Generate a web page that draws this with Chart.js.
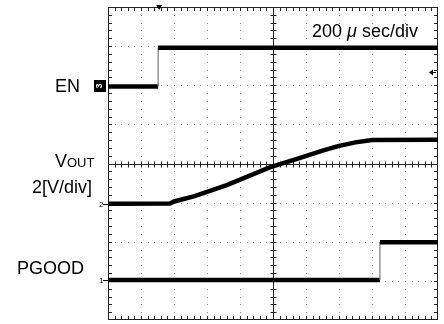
<!DOCTYPE html>
<html>
<head>
<meta charset="utf-8">
<script src="https://cdn.jsdelivr.net/npm/chart.js@4/dist/chart.umd.min.js"></script>
<style>
  body { margin: 0; background: #fff; }
  canvas { display: block; }
</style>
</head>
<body>
<canvas id="scope" width="444" height="324"></canvas>
<script>
// time in divisions (200 usec/div), level in vertical divisions from bottom
const enTime = [0, 1.52, 1.52, 10];
const enLevel = [5.97, 5.97, 6.96, 6.96];

const voutTime = [0, 1.88, 2.0, 2.6, 3.6, 4.9, 5.8, 6.5, 7.0, 7.5, 8.0, 10];
const voutLevel = [2.97, 2.98, 3.03, 3.16, 3.45, 3.90, 4.14, 4.33, 4.45, 4.54, 4.60, 4.61];

const pgoodTime = [0, 8.24, 8.24, 10];
const pgoodLevel = [1.02, 1.02, 1.99, 1.99];

const xDivs = 10;
const yDivs = 8;

const toPoints = (t, v) => t.map((x, i) => ({ x: x, y: v[i] }));

const FONT = '"Liberation Sans", Arial, sans-serif';

// thin grey line for the fast edges, thick black otherwise
const edgeWidth = ctx => (ctx.p0.parsed.x === ctx.p1.parsed.x ? 1.2 : 4.5);
const edgeColor = ctx => (ctx.p0.parsed.x === ctx.p1.parsed.x ? '#777' : '#000');

const graticule = {
    id: 'graticule',
    beforeDatasetsDraw(chart) {
        const { ctx, chartArea, scales } = chart;
        const { left, right, top, bottom } = chartArea;
        const xs = scales.x, ys = scales.y;
        ctx.save();

        // dotted division lines
        ctx.fillStyle = '#888';
        for (let i = 1; i < xDivs; i++) {
            if (i === xDivs / 2) continue;
            const px = Math.round(xs.getPixelForValue(i));
            for (let k = 1; k < yDivs * 5; k++) {
                const py = Math.round(ys.getPixelForValue(k / 5));
                ctx.fillRect(px, py, 1, 1);
            }
        }
        for (let j = 1; j < yDivs; j++) {
            if (j === yDivs / 2) continue;
            const py = Math.round(ys.getPixelForValue(j));
            for (let k = 1; k < xDivs * 5; k++) {
                const px = Math.round(xs.getPixelForValue(k / 5));
                ctx.fillRect(px, py, 1, 1);
            }
        }

        // frame and centre axes
        ctx.strokeStyle = '#222';
        ctx.lineWidth = 1;
        ctx.strokeRect(left + 0.5, top + 0.5, right - left - 1, bottom - top - 1);
        const cx = Math.round(xs.getPixelForValue(xDivs / 2)) + 0.5;
        const cy = Math.round(ys.getPixelForValue(yDivs / 2)) + 0.5;
        ctx.beginPath();
        ctx.moveTo(cx, top); ctx.lineTo(cx, bottom);
        ctx.moveTo(left, cy); ctx.lineTo(right, cy);

        // minor ticks
        for (let k = 1; k < xDivs * 5; k++) {
            const px = Math.round(xs.getPixelForValue(k / 5)) + 0.5;
            ctx.moveTo(px, top); ctx.lineTo(px, top + 4);
            ctx.moveTo(px, bottom); ctx.lineTo(px, bottom - 4);
            ctx.moveTo(px, cy - 3); ctx.lineTo(px, cy + 3);
        }
        for (let k = 1; k < yDivs * 5; k++) {
            const py = Math.round(ys.getPixelForValue(k / 5)) + 0.5;
            ctx.moveTo(left, py); ctx.lineTo(left + 4, py);
            ctx.moveTo(right, py); ctx.lineTo(right - 4, py);
            ctx.moveTo(cx - 3, py); ctx.lineTo(cx + 3, py);
        }
        ctx.stroke();
        ctx.restore();
    },
    afterDatasetsDraw(chart) {
        const { ctx, chartArea, scales } = chart;
        const { top, right } = chartArea;
        const ys = scales.y, xs = scales.x;
        ctx.save();
        ctx.fillStyle = '#000';
        ctx.textBaseline = 'alphabetic';

        // channel names
        ctx.font = '18px ' + FONT;
        ctx.fillText('EN', 55, 92);
        ctx.fillText('V', 55, 167);
        ctx.fillText('2[V/div]', 32, 193);
        ctx.fillText('PGOOD', 17, 274);
        ctx.font = '13px ' + FONT;
        ctx.fillText('OUT', 67, 167);

        // timebase
        const t1 = '200 ';
        const t3 = ' sec/div';
        ctx.font = '18px ' + FONT;
        let tx = 312;
        ctx.fillText(t1, tx, 37);
        tx += ctx.measureText(t1).width;
        ctx.font = 'italic 18px ' + FONT;
        ctx.fillText('\u03bc', tx, 37);
        tx += ctx.measureText('\u03bc').width;
        ctx.font = '18px ' + FONT;
        ctx.fillText(t3, tx, 37);

        // channel 3 ground marker (EN)
        const enY = Math.round(ys.getPixelForValue(enLevel[0]));
        ctx.fillRect(94, enY - 6, 12, 12);
        ctx.fillStyle = '#fff';
        ctx.font = 'bold 9px ' + FONT;
        ctx.save();
        ctx.translate(100, enY);
        ctx.rotate(-Math.PI / 2);
        ctx.textAlign = 'center';
        ctx.textBaseline = 'middle';
        ctx.fillText('3', 0, 0);
        ctx.restore();
        ctx.fillStyle = '#000';

        // channel 2 and 1 markers
        ctx.font = '8px ' + FONT;
        [[2, voutLevel[0]], [1, pgoodLevel[0]]].forEach(([n, v]) => {
            const py = Math.round(ys.getPixelForValue(v));
            ctx.fillText(String(n), 99, py + 3);
            ctx.fillRect(103, py, 5, 1);
        });

        // trigger position marker
        const trigX = xs.getPixelForValue(enTime[1]) + 1;
        ctx.beginPath();
        ctx.moveTo(trigX - 3, top - 2);
        ctx.lineTo(trigX + 3, top - 2);
        ctx.lineTo(trigX, top + 3);
        ctx.closePath();
        ctx.fill();

        // trigger level marker
        const lvlY = Math.round(ys.getPixelForValue(6.35));
        ctx.beginPath();
        ctx.moveTo(right - 9, lvlY + 0.5);
        ctx.lineTo(right - 5, lvlY - 2.5);
        ctx.lineTo(right - 5, lvlY + 3.5);
        ctx.closePath();
        ctx.fill();
        ctx.fillRect(right - 5, lvlY, 3, 1);
        ctx.restore();
    }
};

const traceStyle = {
    borderColor: '#000',
    borderWidth: 4.5,
    pointRadius: 0,
    tension: 0,
    fill: false,
    segment: { borderWidth: edgeWidth, borderColor: edgeColor }
};

new Chart(document.getElementById('scope'), {
    type: 'line',
    data: {
        datasets: [
            Object.assign({ label: 'EN', data: toPoints(enTime, enLevel) }, traceStyle),
            Object.assign({ label: 'VOUT', data: toPoints(voutTime, voutLevel) }, traceStyle),
            Object.assign({ label: 'PGOOD', data: toPoints(pgoodTime, pgoodLevel) }, traceStyle)
        ]
    },
    options: {
        responsive: false,
        animation: false,
        layout: { padding: { left: 108, right: 6, top: 7, bottom: 4 } },
        scales: {
            x: { type: 'linear', min: 0, max: xDivs, display: false },
            y: { min: 0, max: yDivs, display: false }
        },
        plugins: {
            legend: { display: false },
            tooltip: { enabled: false }
        }
    },
    plugins: [graticule]
});
</script>
</body>
</html>
